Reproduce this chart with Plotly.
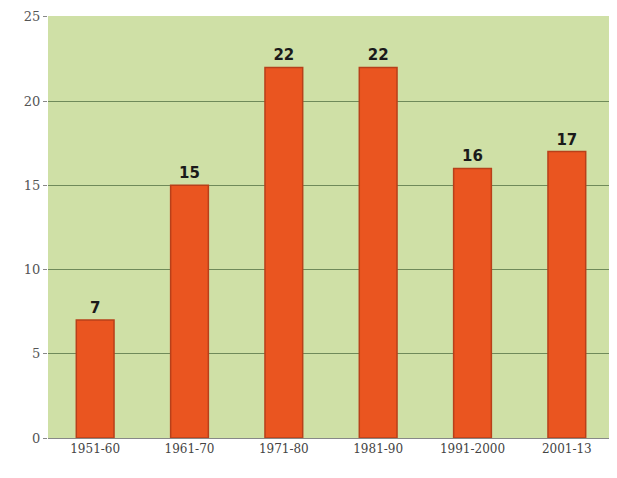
import plotly.graph_objects as go

categories = ["1951-60", "1961-70", "1971-80", "1981-90", "1991-2000", "2001-13"]
values = [7, 15, 22, 22, 16, 17]
y_ticks = [0, 5, 10, 15, 20, 25]

fig = go.Figure()
fig.add_trace(go.Bar(
    x=categories, y=values, width=0.4,
    marker=dict(color="#ea5520", line=dict(color="#b8401a", width=1.5)),
    text=["<b>%d</b>" % v for v in values], textposition="outside",
    textfont=dict(family="DejaVu Sans", size=15, color="#1a1a1a"),
    cliponaxis=False,
))
fig.update_layout(
    width=617, height=478,
    margin=dict(l=40, r=11, t=8, b=48, autoexpand=False),
    paper_bgcolor="white", plot_bgcolor="#cfe0a6",
    showlegend=False, bargap=0.6,
    xaxis=dict(tickfont=dict(family="DejaVu Serif", size=12, color="#444"),
               showline=True, linecolor="#888", ticks="", showgrid=False),
    yaxis=dict(range=[0, 25.05], tickvals=y_ticks, ticktext=[str(t) for t in y_ticks],
               tickfont=dict(family="DejaVu Serif", size=13, color="#555"),
               ticklabeloverflow="allow",
               showgrid=True, gridcolor="#6f8a5a", gridwidth=1, zeroline=False,
               ticks="outside", ticklen=4, tickcolor="#888"),
)
fig.write_html("out.html")
